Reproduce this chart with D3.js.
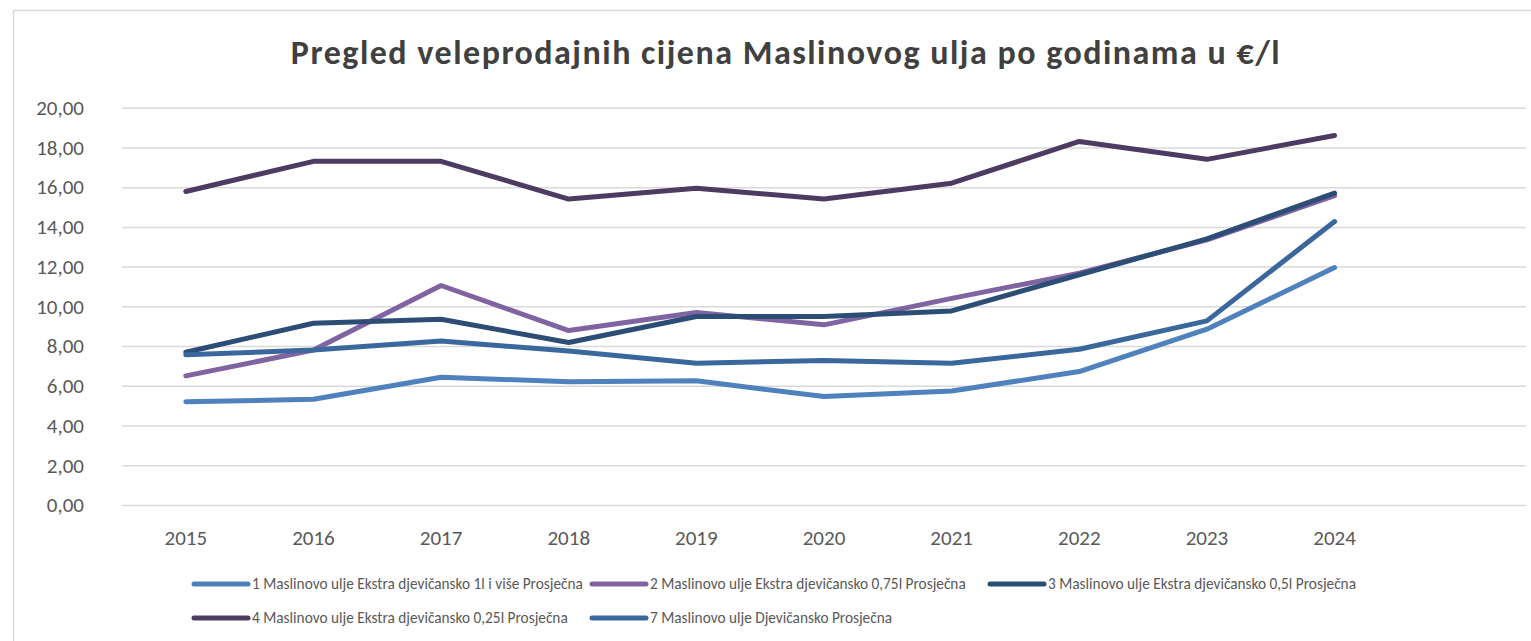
<!DOCTYPE html>
<html>
<head>
<meta charset="utf-8">
<script src="https://cdn.jsdelivr.net/npm/d3@7"></script>
<style>
  body { margin: 0; background: #fff; }
  text { font-family: Calibri, Carlito, Lato, sans-serif; fill: #595959; }
</style>
</head>
<body>
<div id="chart"></div>
<script>
// Chart data
const years = [2015, 2016, 2017, 2018, 2019, 2020, 2021, 2022, 2023, 2024];
const yTicks = [0, 2, 4, 6, 8, 10, 12, 14, 16, 18, 20];

const seriesNames = [
    "1 Maslinovo ulje Ekstra djevičansko 1l i više Prosječna",
    "2 Maslinovo ulje Ekstra djevičansko 0,75l Prosječna",
    "3 Maslinovo ulje Ekstra djevičansko 0,5l Prosječna",
    "4 Maslinovo ulje Ekstra djevičansko 0,25l Prosječna",
    "7 Maslinovo ulje Djevičansko Prosječna"
];
const s1 = [5.20, 5.32, 6.43, 6.21, 6.25, 5.46, 5.74, 6.72, 8.85, 11.95];
const s2 = [6.50, 7.80, 11.05, 8.78, 9.69, 9.07, 10.40, 11.67, 13.35, 15.57];
const s3 = [7.69, 9.15, 9.35, 8.18, 9.49, 9.49, 9.77, 11.59, 13.40, 15.70];
const s4 = [15.78, 17.30, 17.30, 15.40, 15.95, 15.40, 16.20, 18.30, 17.40, 18.60];
const s7 = [7.56, 7.80, 8.26, 7.75, 7.14, 7.27, 7.14, 7.84, 9.27, 14.27];
const seriesColors = ["#4f81bd", "#8064a2", "#2c4d75", "#4d3b62", "#3a679c"];

const series = [s1, s2, s3, s4, s7].map((vals, i) => ({
    name: seriesNames[i],
    color: seriesColors[i],
    values: vals.map((v, j) => ({year: years[j], value: v}))
}));

drawChart();

function drawChart() {
    const W = 1531, H = 641;
    const plot = {left: 122, right: 1526, top: 107.7, bottom: 505};

    const svg = d3.select("#chart")
        .append("svg")
        .attr("width", W)
        .attr("height", H);

    // Chart frame
    svg.append("rect")
        .attr("x", 13.5).attr("y", 10.5)
        .attr("width", W).attr("height", H)
        .attr("fill", "none")
        .attr("stroke", "#d9d9d9")
        .attr("stroke-width", 1.5);

    // Title
    svg.append("text")
        .attr("x", 786)
        .attr("y", 64)
        .attr("text-anchor", "middle")
        .attr("font-size", 34)
        .attr("font-weight", "bold")
        .attr("letter-spacing", 1.5)
        .style("fill", "#404040")
        .text("Pregled veleprodajnih cijena Maslinovog ulja po godinama u €/l");

    // Excel leaves one empty category slot on the right
    const bw = (plot.right - plot.left) / (years.length + 1);
    const xScale = d3.scaleBand()
        .domain(years)
        .range([plot.left, plot.left + bw * years.length]);

    const yScale = d3.scaleLinear()
        .domain([0, 20])
        .range([plot.bottom, plot.top]);

    const locale = d3.formatLocale({decimal: ",", thousands: ".", grouping: [3], currency: ["", "€"]});
    const fmt = locale.format(".2f");

    // y axis with gridlines
    const yAxis = d3.axisLeft(yScale)
        .tickValues(yTicks)
        .tickFormat(fmt)
        .tickSizeInner(-(plot.right - plot.left))
        .tickSizeOuter(0)
        .tickPadding(38);

    const gy = svg.append("g")
        .attr("transform", `translate(${plot.left},0)`)
        .call(yAxis);
    gy.select(".domain").remove();
    gy.selectAll("line").attr("stroke", "#d9d9d9").attr("stroke-width", 1.5);
    gy.selectAll("text").attr("font-size", 21).style("fill", "#595959");

    // x axis
    const xAxis = d3.axisBottom(xScale).tickSize(0).tickPadding(25);
    const gx = svg.append("g")
        .attr("transform", `translate(0,${plot.bottom})`)
        .call(xAxis);
    gx.select(".domain").remove();
    gx.selectAll("text").attr("font-size", 21).style("fill", "#595959");

    // Lines
    const line = d3.line()
        .x(d => xScale(d.year) + xScale.bandwidth() / 2)
        .y(d => yScale(d.value));

    svg.selectAll(".series")
        .data(series)
        .join("path")
        .attr("class", "series")
        .attr("d", d => line(d.values))
        .attr("fill", "none")
        .attr("stroke", d => d.color)
        .attr("stroke-width", 5)
        .attr("stroke-linecap", "round")
        .attr("stroke-linejoin", "round");

    // Legend
    const legend = svg.append("g");
    const items = legend.selectAll("g")
        .data(series)
        .join("g")
        .attr("transform", (d, i) => `translate(${194 + (i % 3) * 398},${584 + Math.floor(i / 3) * 34})`);

    items.append("line")
        .attr("x1", 0).attr("x2", 54)
        .attr("stroke", d => d.color)
        .attr("stroke-width", 5)
        .attr("stroke-linecap", "round");

    items.append("text")
        .attr("x", 58)
        .attr("dy", "0.35em")
        .attr("font-size", 15.3)
        .style("fill", "#595959")
        .text(d => d.name);
}
</script>
</body>
</html>
